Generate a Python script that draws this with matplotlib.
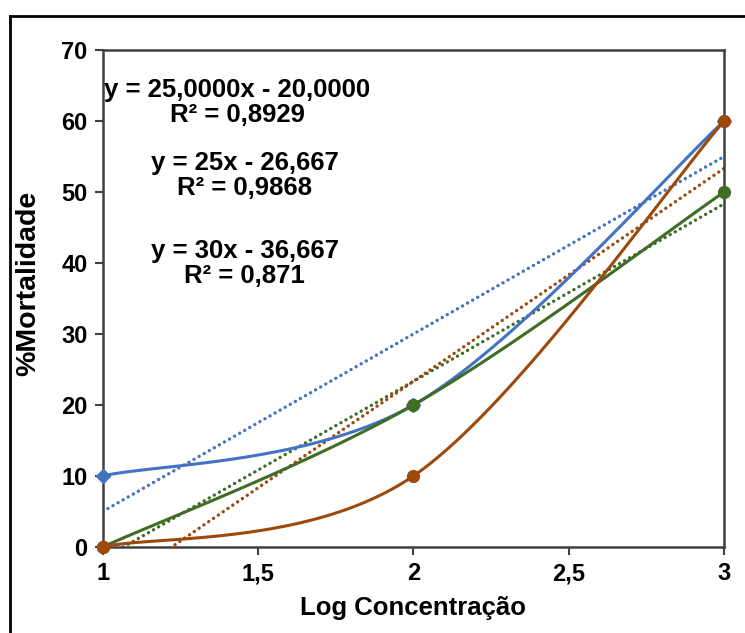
import numpy as np
import matplotlib.pyplot as plt
from matplotlib.lines import Line2D
from matplotlib.ticker import FuncFormatter

# dados
log_conc = [1, 2, 3]
serie_azul = [10, 20, 60]
serie_verde = [0, 20, 50]
serie_marrom = [0, 10, 60]
equacoes = ['y = 25,0000x - 20,0000\nR² = 0,8929',
            'y = 25x - 26,667\nR² = 0,9868',
            'y = 30x - 36,667\nR² = 0,871']

cor_azul = '#4472C4'
cor_verde = '#3F6D25'
cor_marrom = '#9E480E'

plt.rcParams['font.family'] = ['Liberation Sans', 'DejaVu Sans']
plt.rcParams['font.weight'] = 'bold'


# curva suavizada (tipo Excel: Bezier com tangentes de Catmull-Rom)
def suavizar(x, y, n=60):
    p = np.column_stack([x, y]).astype(float)
    pts = np.vstack([p[0], p, p[-1]])
    out = []
    for i in range(1, len(pts) - 2):
        p0, p1, p2, p3 = pts[i - 1], pts[i], pts[i + 1], pts[i + 2]
        c1 = p1 + (p2 - p0) / 6
        c2 = p2 - (p3 - p1) / 6
        t = np.linspace(0, 1, n)[:, None]
        b = ((1 - t) ** 3) * p1 + 3 * ((1 - t) ** 2) * t * c1 + 3 * (1 - t) * t ** 2 * c2 + t ** 3 * p2
        out.append(b)
    b = np.vstack(out)
    return b[:, 0], b[:, 1]


fig = plt.figure(figsize=(7.45, 6.33), dpi=100)
ax = fig.add_axes([0.138, 0.136, 0.834, 0.785])

# ordem: azul, verde, marrom (marrom por cima)
series = [(serie_azul, cor_azul, 'D'), (serie_verde, cor_verde, 'o'), (serie_marrom, cor_marrom, 'o')]
xt = np.linspace(1, 3, 50)
for ys, cor, mk in series:
    a, b = np.polyfit(log_conc, ys, 1)
    ax.plot(xt, a * xt + b, linestyle=(0, (0.05, 1.7)), color=cor, lw=2.4,
            dash_capstyle='round', zorder=2)
for k, (ys, cor, mk) in enumerate(series):
    sx, sy = suavizar(log_conc, ys)
    ax.plot(sx, sy, color=cor, lw=2.2, zorder=3 + k)
    ax.plot(log_conc, ys, linestyle='none', marker=mk, color=cor,
            markersize=8.5 if mk == 'o' else 7, zorder=3 + k, clip_on=False)

ax.set_xlim(1, 3)
ax.set_ylim(0, 70)
ax.set_xticks([1, 1.5, 2, 2.5, 3])
ax.set_yticks(range(0, 71, 10))
ax.xaxis.set_major_formatter(FuncFormatter(lambda v, p: ('%g' % v).replace('.', ',')))
ax.tick_params(labelsize=17, length=6, width=1.5, color='#404040', direction='out', pad=5)
for s in ax.spines.values():
    s.set_color('#404040')
    s.set_linewidth(1.8)

ax.set_xlabel('Log Concentração', fontsize=18.5, fontweight='bold', labelpad=8)
fig.text(28 / 745, 1 - 283 / 633, '%Mortalidade', rotation=90, ha='center', va='center',
         fontsize=20.5, fontweight='bold')

pos = [(1.432, 62.6), (1.457, 52.3), (1.457, 39.9)]
for txt, (x, y) in zip(equacoes, pos):
    ax.text(x, y, txt, ha='center', va='center', fontsize=18.5, fontweight='bold',
            linespacing=1.08, zorder=8)

# moldura da figura (parcial)
fig.add_artist(Line2D([10 / 745, 1], [1 - 16 / 633, 1 - 16 / 633], color='black', lw=2))
fig.add_artist(Line2D([10 / 745, 10 / 745], [0, 1 - 16 / 633], color='black', lw=2))

fig.savefig('out.png', dpi=100)
